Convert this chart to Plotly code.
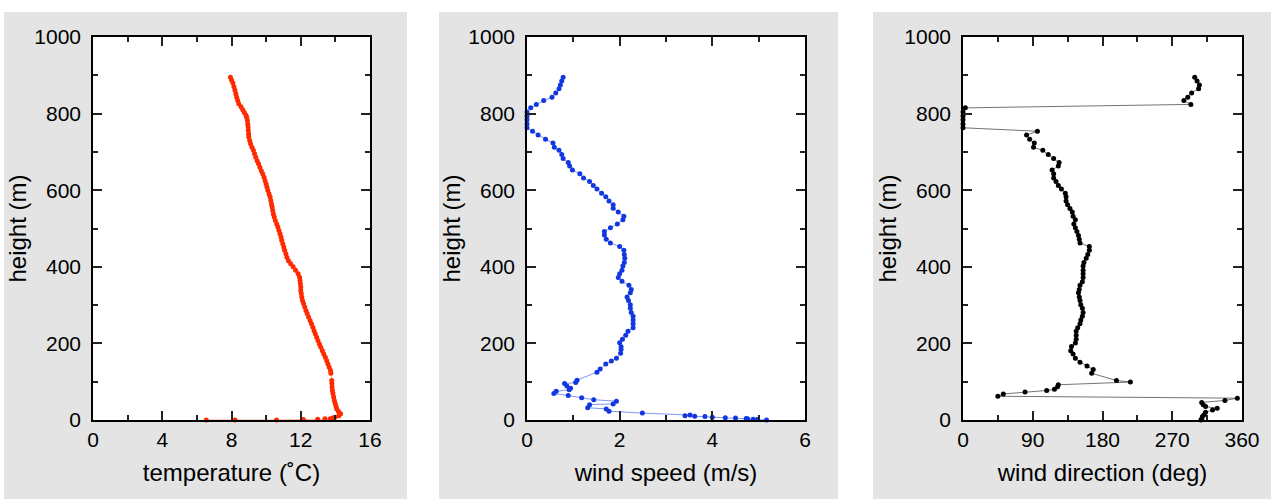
import plotly.graph_objects as go

# ---------------- data ----------------
temp_height = [895, 888, 880, 870, 861, 852, 843, 834, 826, 818,
               810, 803, 796, 790, 782, 773, 765, 756, 747, 739,
               730, 721, 712, 704, 695, 686, 677, 669, 660, 651,
               643, 634, 625, 616, 608, 599, 590, 582, 573, 564,
               556, 547, 538, 530, 521, 512, 504, 495, 486, 478,
               469, 460, 452, 443, 434, 425, 416, 408, 400, 391,
               382, 373, 364, 356, 347, 338, 330, 321, 312, 304,
               295, 286, 278, 269, 260, 251, 242, 233, 225, 216,
               207, 198, 190, 181, 172, 164, 155, 146, 138, 129,
               122, 103, 95, 86, 77, 69, 60, 51, 43, 35,
               29, 22, 16, 11, 7, 5, 3, 3, 2, 1,
               0, 0, 0]
temperature = [7.94, 8.0, 8.08, 8.14, 8.2, 8.25, 8.3, 8.36, 8.42, 8.55,
               8.65, 8.74, 8.84, 8.88, 8.92, 8.94, 8.96, 8.97, 8.99, 9.0,
               9.05, 9.1, 9.18, 9.27, 9.33, 9.4, 9.48, 9.56, 9.64, 9.72,
               9.8, 9.88, 9.94, 10.0, 10.05, 10.1, 10.17, 10.23, 10.27, 10.31,
               10.35, 10.38, 10.42, 10.47, 10.53, 10.61, 10.68, 10.74, 10.8, 10.86,
               10.9, 10.96, 11.02, 11.07, 11.14, 11.2, 11.29, 11.42, 11.56, 11.7,
               11.85, 11.93, 11.96, 11.98, 12.0, 12.0, 12.03, 12.06, 12.1, 12.16,
               12.23, 12.3, 12.37, 12.45, 12.54, 12.62, 12.7, 12.77, 12.84, 12.92,
               13.0, 13.08, 13.16, 13.25, 13.33, 13.42, 13.5, 13.57, 13.64, 13.72,
               13.74, 13.79, 13.8, 13.81, 13.83, 13.86, 13.9, 13.94, 13.99, 14.04,
               14.08, 14.18, 14.3, 14.2, 13.98, 13.85, 13.7, 13.4, 12.98, 12.15,
               10.6, 8.2, 6.54]

speed_height = [895, 885, 875, 865, 854, 843, 834, 824, 815, 804,
                794, 784, 773, 763, 754, 744, 733, 723, 712, 704,
                693, 683, 672, 663, 653, 643, 632, 623, 612, 603,
                592, 583, 572, 562, 553, 543, 532, 523, 512, 502,
                492, 483, 472, 462, 453, 443, 432, 422, 411, 402,
                391, 382, 372, 362, 352, 341, 332, 321, 312, 301,
                292, 281, 271, 261, 251, 241, 232, 221, 211, 202,
                191, 184, 174, 161, 154, 146, 133, 125, 104, 98,
                95, 89, 83, 79, 75, 69, 64, 58, 53, 49,
                42, 40, 32, 29, 23, 18, 13, 11, 10, 9,
                7, 6, 5, 4, 3, 2, 1, 0]
wind_speed = [0.78, 0.75, 0.72, 0.69, 0.62, 0.54, 0.36, 0.2, 0.08, 0,
              0, 0, 0, 0, 0.12, 0.24, 0.4, 0.56, 0.59, 0.69,
              0.75, 0.78, 0.89, 0.92, 0.98, 1.14, 1.22, 1.35, 1.43, 1.51,
              1.61, 1.7, 1.77, 1.86, 1.86, 1.97, 2.09, 2.07, 1.95, 1.8,
              1.67, 1.67, 1.71, 1.8, 2.0, 2.09, 2.1, 2.11, 2.1, 2.07,
              2.05, 2.0, 1.97, 2.05, 2.2, 2.25, 2.23, 2.16, 2.19, 2.23,
              2.23, 2.25, 2.29, 2.29, 2.29, 2.29, 2.18, 2.13, 2.06, 2.0,
              2.03, 2.03, 2.02, 1.93, 1.82, 1.7, 1.58, 1.51, 1.08, 1.05,
              0.81, 0.86, 0.94, 0.91, 0.63, 0.58, 0.89, 1.18, 1.44, 1.93,
              1.86, 1.35, 1.31, 1.71, 1.77, 2.49, 3.52, 3.41, 3.62, 3.84,
              4.0, 4.28, 4.5, 4.73, 4.76, 4.88, 4.97, 5.17]

dir_height = [895, 885, 875, 865, 854, 843, 834, 824, 815, 804,
              794, 784, 773, 763, 754, 744, 733, 723, 712, 704,
              693, 683, 672, 663, 653, 643, 632, 623, 612, 603,
              592, 583, 572, 562, 552, 543, 532, 523, 512, 502,
              492, 482, 472, 462, 453, 443, 432, 422, 411, 402,
              391, 382, 372, 361, 352, 341, 332, 321, 312, 301,
              292, 281, 271, 261, 251, 241, 232, 221, 211, 201,
              192, 181, 172, 161, 151, 141, 132, 122, 103, 99,
              92, 87, 80, 77, 73, 68, 62, 57, 51, 46,
              40, 35, 31, 26, 20, 14, 9, 3, 0]
wind_dir = [299, 302, 305, 304, 295, 290, 285, 294, 3, 0,
            0, 0, 0, 0, 96, 82, 86, 92, 91, 103,
            110, 117, 124, 123, 115, 117, 117, 120, 123, 127,
            132, 133, 133, 135, 138, 141, 142, 145, 143, 145,
            147, 149, 150, 151, 163, 163, 161, 159, 156, 155,
            155, 155, 155, 154, 151, 150, 149, 150, 151, 152,
            154, 155, 154, 152, 151, 148, 146, 146, 146, 145,
            140, 139, 142, 145, 151, 160, 168, 166, 198, 216,
            123, 122, 118, 108, 80, 52, 45, 354, 338, 308,
            310, 313, 328, 322, 313, 311, 309, 308, 307]

x_titles = ["temperature (˚C)", "wind speed (m/s)", "wind direction (deg)"]
y_title = "height (m)"

# ---------------- figure ----------------
W, H = 1273, 500
FONT = "Liberation Sans, Arial, sans-serif"
fig = go.Figure()

panels = [
    dict(x=temperature, y=temp_height, mc="#ff2a00", lc="rgba(255,60,30,0.45)",
         rng=[0, 16], dtick=4, minor=2, dom=(93, 370), box=(4, 407)),
    dict(x=wind_speed, y=speed_height, mc="#1236e0", lc="rgba(40,80,240,0.6)",
         rng=[0, 6], dtick=2, minor=1, dom=(527, 805), box=(439, 838)),
    dict(x=wind_dir, y=dir_height, mc="#000000", lc="rgba(70,70,70,0.75)",
         rng=[0, 360], dtick=90, minor=45, dom=(963, 1242), box=(873, 1271)),
]

PLOT_TOP, PLOT_BOT = 37, 420
shapes = []
for i, p in enumerate(panels):
    n = "" if i == 0 else str(i + 1)
    fig.add_trace(go.Scatter(
        x=p["x"], y=p["y"], mode="lines+markers",
        line=dict(color=p["lc"], width=1),
        marker=dict(color=p["mc"], size=5),
        cliponaxis=False, showlegend=False,
        xaxis="x" + n, yaxis="y" + n,
    ))
    axcommon = dict(
        showline=True, linecolor="black", linewidth=1.5, mirror="allticks",
        ticks="inside", ticklen=9, tickwidth=1.5, tickcolor="#222",
        showgrid=False, zeroline=False, automargin=False,
        tickfont=dict(family=FONT, size=21, color="black"),
    )
    fig.update_layout(**{
        "xaxis" + n: dict(
            domain=[p["dom"][0] / W, p["dom"][1] / W],
            range=p["rng"], dtick=p["dtick"], tick0=0,
            anchor="y" + n,
            minor=dict(dtick=p["minor"], ticks="inside", ticklen=5, tickwidth=1.5,
                       tickcolor="#222", showgrid=False),
            ticklabelstandoff=0,
            title=dict(text=x_titles[i], standoff=14,
                       font=dict(family=FONT, size=24, color="black")),
            **axcommon),
        "yaxis" + n: dict(
            domain=[(H - PLOT_BOT) / H, (H - PLOT_TOP) / H],
            range=[0, 1000], dtick=200, tick0=0,
            anchor="x" + n,
            minor=dict(dtick=100, ticks="inside", ticklen=5, tickwidth=1.5,
                       tickcolor="#222", showgrid=False),
            ticklabelstandoff=6,
            title=dict(text=y_title, standoff=1,
                       font=dict(family=FONT, size=24, color="black")),
            **axcommon),
    })
    shapes.append(dict(type="rect", xref="paper", yref="paper", layer="below",
                       x0=p["box"][0] / W, x1=p["box"][1] / W,
                       y0=(H - 499) / H, y1=(H - 12) / H,
                       fillcolor="#e3e4e3", line=dict(width=0)))
    shapes.append(dict(type="rect", xref="paper", yref="paper", layer="below",
                       x0=p["dom"][0] / W, x1=p["dom"][1] / W,
                       y0=(H - PLOT_BOT) / H, y1=(H - PLOT_TOP) / H,
                       fillcolor="white", line=dict(width=0)))

fig.update_layout(
    width=W, height=H,
    margin=dict(l=0, r=0, t=0, b=0, pad=0, autoexpand=False),
    paper_bgcolor="white", plot_bgcolor="white",
    shapes=shapes,
    font=dict(family=FONT, color="black"),
)

fig.write_html("out.html")
